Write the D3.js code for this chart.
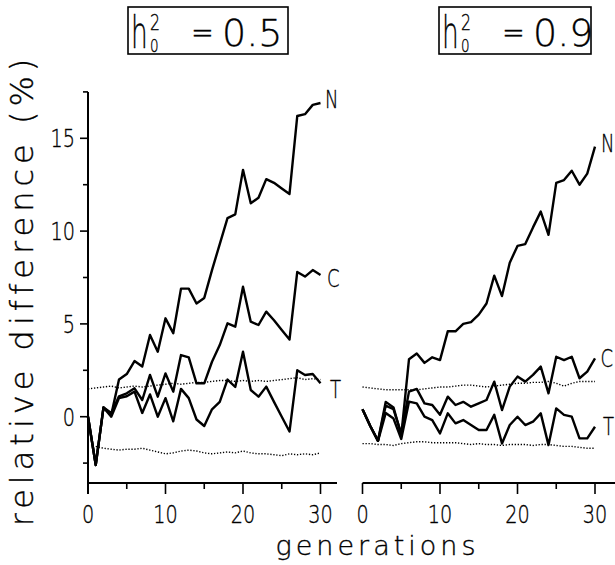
<!DOCTYPE html>
<html><head><meta charset="utf-8">
<script src="https://cdn.jsdelivr.net/npm/d3@7/dist/d3.min.js"></script>
<style>body{margin:0;background:#fff}svg{display:block}text{font-family:"DejaVu Sans",sans-serif;font-weight:200;fill:#000;stroke:#000;stroke-width:0.35}</style>
</head><body><svg id="c" width="615" height="565"></svg>
<script>
const generations = d3.range(0, 31);
const leftN = [0,-2.6,0.5,0.1,2.0,2.3,3.0,2.7,4.4,3.5,5.3,4.5,6.9,6.9,6.1,6.4,7.9,9.3,10.7,10.9,13.3,11.5,11.8,12.8,12.6,12.3,12.0,16.2,16.3,16.8,16.9];
const leftC = [0,-2.6,0.5,0.2,1.1,1.26,1.53,0.9,2.25,1.08,2.33,1.35,3.32,3.2,1.8,1.8,2.96,3.86,5.03,4.85,7.0,5.12,4.94,5.66,5.2,4.67,4.16,7.8,7.55,7.9,7.64];
const leftT = [0,-2.6,0.5,0.0,1.0,1.1,1.35,0.2,1.2,0.0,1.0,-0.25,1.5,1.0,-0.15,-0.5,0.4,0.8,2.0,1.6,3.5,1.44,1.08,1.62,0.8,0.0,-0.8,2.5,2.25,2.3,1.8];
const leftUpper = [1.5,1.55,1.6,1.65,1.55,1.6,1.65,1.6,1.65,1.7,1.75,1.8,1.75,1.8,1.85,1.85,1.9,1.95,1.95,1.9,1.95,1.9,1.95,1.9,1.95,2.0,2.05,2.1,2.0,2.05,2.0];
const leftLower = [null,-1.6,-1.7,-1.75,-1.8,-1.75,-1.75,-1.7,-1.8,-1.9,-2.0,-1.95,-1.85,-1.8,-1.85,-1.95,-2.0,-1.95,-1.9,-1.95,-1.85,-1.95,-2.0,-2.0,-2.05,-2.1,-2.0,-2.05,-2.0,-2.05,-1.95];
const rightN = [0.4,-0.5,-1.3,0.8,0.5,-1.0,3.1,3.4,2.9,3.2,3.05,4.6,4.6,5.0,5.1,5.5,6.1,7.6,6.5,8.3,9.2,9.3,10.2,11.05,9.8,12.6,12.75,13.25,12.5,13.1,14.55];
const rightC = [0.4,-0.5,-1.3,0.6,0.4,-0.9,1.35,1.5,0.72,0.63,0.1,1.08,0.63,0.8,0.54,0.72,0.9,1.89,0.36,1.62,2.16,1.89,2.25,2.7,1.26,3.23,3.05,3.23,2.07,2.43,3.14];
const rightT = [0.4,-0.5,-1.3,0.2,-0.1,-1.2,0.81,0.72,0.0,-0.18,-0.9,0.18,-0.36,-0.18,-0.45,-0.72,-0.72,0.1,-1.44,-0.45,0.0,-0.45,-0.27,0.18,-1.53,0.45,0.1,0.0,-1.17,-1.17,-0.54];
const rightUpper = [1.6,1.55,1.5,1.45,1.45,1.45,1.45,1.45,1.5,1.55,1.6,1.6,1.65,1.7,1.7,1.65,1.6,1.65,1.7,1.75,1.8,1.8,1.85,1.85,1.9,1.8,1.65,1.8,1.9,1.9,1.9];
const rightLower = [-1.45,-1.45,-1.5,-1.5,-1.55,-1.45,-1.4,-1.35,-1.35,-1.4,-1.4,-1.4,-1.4,-1.45,-1.5,-1.45,-1.5,-1.5,-1.55,-1.5,-1.5,-1.5,-1.55,-1.5,-1.5,-1.55,-1.6,-1.6,-1.65,-1.7,-1.7];
const xTicks = [0, 5, 10, 15, 20, 25, 30];
const xTickLabels = ["0", "", "10", "", "20", "", "30"];
const yTicks = [-2.5, 0, 2.5, 5, 7.5, 10, 12.5, 15, 17.5];
const yTickLabels = ["", "0", "", "5", "", "10", "", "15", ""];
const titles = ["0.5", "0.9"];
const seriesNames = ["N", "C", "T"];

const svg = d3.select("#c");
const y = d3.scaleLinear().domain([0, 15]).range([416.7, 138.3]);
const xL = d3.scaleLinear().domain([0, 30]).range([88, 320.5]);
const xR = d3.scaleLinear().domain([0, 30]).range([362.5, 595]);
const axisY = 483;

function txt(x, yy, s, size, sx, anchor, rot, ls) {
  const g = svg.append("g").attr("transform", `translate(${x},${yy}) rotate(${rot || 0}) scale(${sx},1)`);
  const t = g.append("text").attr("font-size", size).attr("text-anchor", anchor || "start").text(s);
  if (ls) t.attr("letter-spacing", ls);
  return t;
}

function panel(x, series, dotted, labelPos, axisEnd) {
  const line = d3.line().defined(d => d[1] !== null).x(d => x(d[0])).y(d => y(d[1]));
  dotted.forEach(s => {
    svg.append("path").datum(generations.map((g, i) => [g, s[i]]))
      .attr("d", line).attr("fill", "none").attr("stroke", "#000")
      .attr("stroke-width", 1.4).attr("stroke-dasharray", "1.3,1.7");
  });
  series.forEach((s, k) => {
    svg.append("path").datum(generations.map((g, i) => [g, s[i]]))
      .attr("d", line).attr("fill", "none").attr("stroke", "#000")
      .attr("stroke-width", 2.4).attr("stroke-linejoin", "round");
    txt(labelPos[k][0], labelPos[k][1], seriesNames[k], 25, 0.72, "start");
  });
  svg.append("line").attr("x1", x(0)).attr("x2", axisEnd).attr("y1", axisY).attr("y2", axisY)
    .attr("stroke", "#000").attr("stroke-width", 2);
  xTicks.forEach((t, i) => {
    svg.append("line").attr("x1", x(t)).attr("x2", x(t)).attr("y1", axisY)
      .attr("y2", axisY + (xTickLabels[i] ? 11 : 6)).attr("stroke", "#000").attr("stroke-width", 1.6);
    if (xTickLabels[i]) txt(x(t), 522.7, xTickLabels[i], 24, 0.8, "middle");
  });
}

panel(xL, [leftN, leftC, leftT], [leftUpper, leftLower], [[325, 108], [327, 287], [330, 398]], 337);
panel(xR, [rightN, rightC, rightT], [rightUpper, rightLower], [[601, 152], [600.5, 367], [603, 435]], 615);

svg.append("line").attr("x1", xL(0)).attr("x2", xL(0)).attr("y1", y(17.5)).attr("y2", axisY + 11)
  .attr("stroke", "#000").attr("stroke-width", 2);
yTicks.forEach((t, i) => {
  svg.append("line").attr("x1", xL(0) - (yTickLabels[i] ? 8 : 5)).attr("x2", xL(0)).attr("y1", y(t)).attr("y2", y(t))
    .attr("stroke", "#000").attr("stroke-width", 1.6);
  if (yTickLabels[i]) txt(xL(0) - 13, y(t) + 9, yTickLabels[i], 24, 0.8, "end");
});

txt(33, 290, "relative difference (%)", 32, 1, "middle", -90, 5);
txt(377.5, 555, "generations", 27, 1, "middle", 0, 4);

[[128, 288], [439, 591]].forEach((b, i) => {
  svg.append("rect").attr("x", b[0]).attr("y", 7).attr("width", b[1] - b[0]).attr("height", 47)
    .attr("fill", "none").attr("stroke", "#000").attr("stroke-width", 1.6);
  const x0 = b[0] + 3;
  txt(x0, 48, "h", 44, 0.6, "start");
  txt(x0 + 19, 30, "2", 21, 0.75, "start");
  txt(x0 + 19, 52, "0", 18, 0.75, "start");
  txt(x0 + 60, 44, "=", 34, 0.8, "start");
  txt(x0 + 91, 46, titles[i], 38, 1, "start");
});
</script></body></html>
